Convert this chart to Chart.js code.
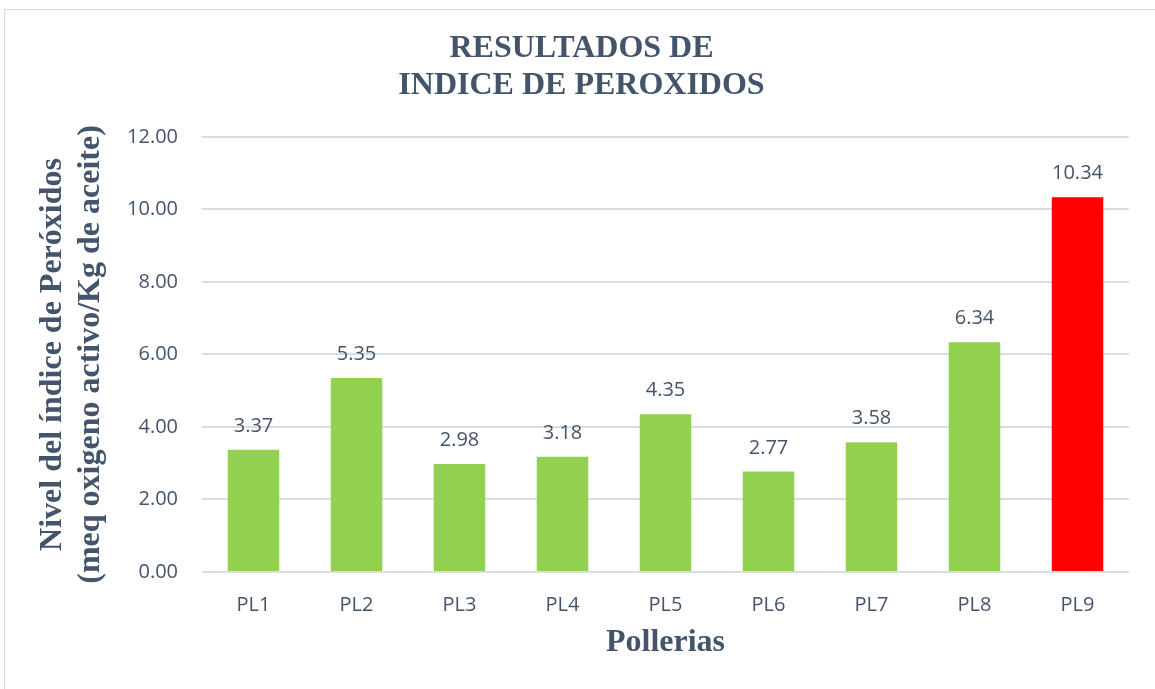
<!DOCTYPE html>
<html>
<head>
<meta charset="utf-8">
<script src="https://cdn.jsdelivr.net/npm/chart.js@4.4.0/dist/chart.umd.min.js"></script>
<style>
    body { margin: 0; background: #fff; }
    #marco {
        position: absolute; left: 4px; top: 9px;
        width: 1151px; height: 680px;
        border-top: 1px solid #d9d9d9; border-left: 1px solid #d9d9d9;
        box-sizing: border-box;
    }
    canvas { display: block; }
</style>
</head>
<body>
<div id="marco"><canvas id="graficoBarra" width="1150" height="679"></canvas></div>
<script>
const categorias = ['PL1', 'PL2', 'PL3', 'PL4', 'PL5', 'PL6', 'PL7', 'PL8', 'PL9'];
const valores = [3.37, 5.35, 2.98, 3.18, 4.35, 2.77, 3.58, 6.34, 10.34];
const colores = ['#92D050', '#92D050', '#92D050', '#92D050', '#92D050', '#92D050', '#92D050', '#92D050', '#FF0000'];
const ticksY = [0, 2, 4, 6, 8, 10, 12];

const colorTexto = '#44546A';
const fuenteSans = "'Open Sans', sans-serif";
const fuenteSerif = "'Liberation Serif', 'Times New Roman', serif";

// etiquetas de valor encima de cada barra
const etiquetas = {
    id: 'etiquetas',
    afterDatasetsDraw(chart) {
        const ctx = chart.ctx;
        const meta = chart.getDatasetMeta(0);
        ctx.save();
        ctx.font = '20px ' + fuenteSans;
        ctx.fillStyle = colorTexto;
        ctx.textAlign = 'center';
        ctx.textBaseline = 'alphabetic';
        meta.data.forEach((barra, i) => {
            ctx.fillText(valores[i].toFixed(2), barra.x, barra.y - 18);
        });
        ctx.restore();
    }
};

const ctx = document.getElementById('graficoBarra').getContext('2d');
new Chart(ctx, {
    type: 'bar',
    data: {
        labels: categorias,
        datasets: [{
            data: valores,
            backgroundColor: colores,
            borderWidth: 0,
            categoryPercentage: 1,
            barPercentage: 0.5
        }]
    },
    options: {
        responsive: false,
        animation: false,
        layout: { padding: { top: 0, right: 26, bottom: 27, left: 29 } },
        plugins: {
            legend: { display: false },
            tooltip: { enabled: false },
            title: {
                display: true,
                text: ['RESULTADOS DE', 'INDICE DE PEROXIDOS'],
                color: colorTexto,
                font: { family: fuenteSerif, size: 32, weight: 'bold', lineHeight: 1.156 },
                padding: { top: 20, bottom: 33 }
            }
        },
        scales: {
            x: {
                afterFit: s => { s.height = 90; },
                grid: { display: false, drawTicks: false },
                border: { display: false },
                ticks: { color: colorTexto, font: { family: fuenteSans, size: 20 }, padding: 21 },
                title: {
                    display: true,
                    text: 'Pollerias',
                    color: colorTexto,
                    font: { family: fuenteSerif, size: 32, weight: 'bold', lineHeight: 1.2 },
                    padding: { top: 0, bottom: 0 }
                }
            },
            y: {
                min: 0,
                max: 12,
                afterBuildTicks: scale => { scale.ticks = ticksY.map(v => ({ value: v })); },
                afterFit: s => { s.width = 168; },
                grid: { color: '#D9DEE5', lineWidth: 2, drawTicks: false },
                border: { display: false },
                ticks: {
                    color: colorTexto,
                    font: { family: fuenteSans, size: 20 },
                    padding: 24,
                    callback: v => v.toFixed(2)
                },
                title: {
                    display: true,
                    text: ['Nivel del índice de Peróxidos', '(meq oxigeno activo/Kg de aceite)'],
                    color: colorTexto,
                    font: { family: fuenteSerif, size: 32, weight: 'bold', lineHeight: 1.19 },
                    padding: { top: 0, bottom: 0 }
                }
            }
        }
    },
    plugins: [etiquetas]
});
</script>
</body>
</html>
